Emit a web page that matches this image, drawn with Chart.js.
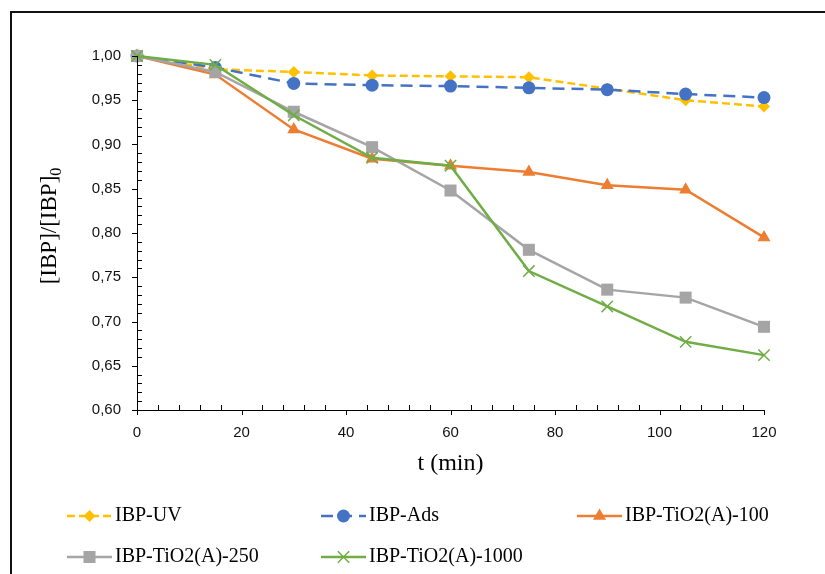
<!DOCTYPE html>
<html lang="en">
<head>
    <meta charset="UTF-8">
    <title>IBP degradation</title>
    <script src="https://cdn.jsdelivr.net/npm/chart.js"></script>
    <style>
        body { margin: 0; background: #fff; overflow: hidden; }
        .frame { position: absolute; left: 10px; top: 11px; width: 1000px; height: 1000px;
                 border-left: 2px solid #111; border-top: 2px solid #111; }
        #chart { position: absolute; left: 0; top: 0; }
    </style>
</head>
<body>
    <div class="frame"></div>
    <canvas id="chart" width="825" height="574"></canvas>

    <script>
        // Datos: concentración relativa de IBP frente al tiempo (min)
        const timeMin = [0, 15, 30, 45, 60, 75, 90, 105, 120];
        const ibpUV = [1.000, 0.985, 0.982, 0.978, 0.977, 0.976, 0.963, 0.950, 0.943];
        const ibpAds = [1.000, 0.987, 0.969, 0.967, 0.966, 0.964, 0.962, 0.957, 0.953];
        const ibpTiO2_100 = [1.000, 0.979, 0.917, 0.884, 0.876, 0.869, 0.854, 0.849, 0.795];
        const ibpTiO2_250 = [1.000, 0.982, 0.937, 0.897, 0.848, 0.781, 0.736, 0.727, 0.694];
        const ibpTiO2_1000 = [1.000, 0.990, 0.933, 0.885, 0.876, 0.757, 0.717, 0.677, 0.662];
        const seriesNames = ['IBP-UV', 'IBP-Ads', 'IBP-TiO2(A)-100', 'IBP-TiO2(A)-250', 'IBP-TiO2(A)-1000'];

        const serifFont = '"Liberation Serif", "DejaVu Serif", serif';
        const sansFont = '"Liberation Sans", Arial, sans-serif';

        const styles = [
            { color: '#FFC000', dash: [8, 4], point: 'rectRot', radius: 6 },
            { color: '#4472C4', dash: [12, 7], point: 'circle', radius: 6.5 },
            { color: '#ED7D31', dash: [], point: 'triangle', radius: 7.5 },
            { color: '#A5A5A5', dash: [], point: 'rect', radius: 8.5 },
            { color: '#70AD47', dash: [], point: 'crossRot', radius: 8 }
        ];
        const seriesValues = [ibpUV, ibpAds, ibpTiO2_100, ibpTiO2_250, ibpTiO2_1000];

        const datasets = seriesValues.map((vals, i) => ({
            label: seriesNames[i],
            data: vals.map((v, k) => ({ x: timeMin[k], y: v })),
            borderColor: styles[i].color,
            backgroundColor: styles[i].color,
            borderWidth: 2.5,
            borderDash: styles[i].dash,
            pointStyle: styles[i].point,
            pointRadius: styles[i].radius,
            pointBorderWidth: styles[i].point === 'crossRot' ? 1.5 : 0,
            pointBorderColor: styles[i].color,
            pointBackgroundColor: styles[i].color,
            tension: 0,
            clip: false,
            order: seriesValues.length - i
        }));

        // ejes, marcas menores y títulos
        const axesPlugin = {
            id: 'axesDeco',
            afterDraw(chart) {
                const ctx = chart.ctx;
                const xs = chart.scales.x, ys = chart.scales.y;
                const a = chart.chartArea;
                ctx.save();
                ctx.strokeStyle = '#000';
                ctx.lineWidth = 1;
                ctx.beginPath();
                ctx.moveTo(a.left + 0.5, a.top); ctx.lineTo(a.left + 0.5, a.bottom + 0.5);
                ctx.lineTo(a.right, a.bottom + 0.5);
                // y: mayores hacia fuera, menores hacia dentro
                for (let v = 60; v <= 100; v++) {
                    const py = Math.round(ys.getPixelForValue(v / 100)) + 0.5;
                    if (v % 5 === 0) { ctx.moveTo(a.left - 5, py); ctx.lineTo(a.left, py); }
                    else { ctx.moveTo(a.left, py); ctx.lineTo(a.left + 5, py); }
                }
                for (let t = 0; t <= 120; t += 4) {
                    const px = Math.round(xs.getPixelForValue(t)) + 0.5;
                    if (t % 20 === 0) { ctx.moveTo(px, a.bottom); ctx.lineTo(px, a.bottom + 5); }
                    else { ctx.moveTo(px, a.bottom); ctx.lineTo(px, a.bottom - 5); }
                }
                ctx.stroke();

                // título eje x
                ctx.fillStyle = '#000';
                ctx.font = '24px ' + serifFont;
                ctx.textAlign = 'center';
                ctx.textBaseline = 'middle';
                ctx.fillText('t (min)', (a.left + a.right) / 2, 464);

                // título eje y con subíndice
                ctx.translate(56, 226);
                ctx.rotate(-Math.PI / 2);
                ctx.textAlign = 'left';
                ctx.textBaseline = 'alphabetic';
                const main = '[IBP]/[IBP]', sub = '0';
                ctx.font = '23px ' + serifFont;
                const w1 = ctx.measureText(main).width;
                ctx.font = '16px ' + serifFont;
                const w2 = ctx.measureText(sub).width;
                const u0 = -(w1 + w2) / 2;
                ctx.font = '23px ' + serifFont;
                ctx.fillText(main, u0, 0);
                ctx.font = '16px ' + serifFont;
                ctx.fillText(sub, u0 + w1, 5);
                ctx.restore();
            }
        };

        // leyenda en dos filas
        const legendPlugin = {
            id: 'seriesLegend',
            afterDraw(chart) {
                const ctx = chart.ctx;
                const cols = [67, 321, 577];
                const rows = [516, 557];
                ctx.save();
                chart.data.datasets.forEach((ds, i) => {
                    const x = cols[i % 3], y = rows[Math.floor(i / 3)];
                    ctx.strokeStyle = ds.borderColor;
                    ctx.lineWidth = ds.borderWidth;
                    ctx.setLineDash(ds.borderDash);
                    ctx.beginPath();
                    ctx.moveTo(x, y); ctx.lineTo(x + 45, y);
                    ctx.stroke();
                    ctx.setLineDash([]);
                    ctx.fillStyle = ds.pointBackgroundColor;
                    ctx.strokeStyle = ds.pointBorderColor;
                    ctx.lineWidth = ds.pointBorderWidth;
                    Chart.helpers.drawPoint(ctx, {
                        pointStyle: ds.pointStyle, radius: ds.pointRadius,
                        borderWidth: ds.pointBorderWidth, rotation: 0
                    }, x + 22.5, y);
                    ctx.fillStyle = '#000';
                    ctx.font = '20px ' + serifFont;
                    ctx.textAlign = 'left';
                    ctx.textBaseline = 'middle';
                    ctx.fillText(ds.label, x + 48, y);
                });
                ctx.restore();
            }
        };

        new Chart(document.getElementById('chart'), {
            type: 'line',
            data: { datasets },
            options: {
                responsive: false,
                animation: false,
                layout: { padding: { left: 0, top: 56, right: 61, bottom: 0 } },
                plugins: { legend: { display: false }, tooltip: { enabled: false } },
                scales: {
                    x: {
                        type: 'linear', min: 0, max: 120,
                        grid: { display: false, drawTicks: false },
                        border: { display: false },
                        ticks: { stepSize: 20, padding: 14, color: '#111', font: { family: sansFont, size: 15 } },
                        afterFit(scale) { scale.height = 164; }
                    },
                    y: {
                        min: 0.6, max: 1.0,
                        grid: { display: false, drawTicks: false },
                        border: { display: false },
                        ticks: {
                            stepSize: 0.05, padding: 16, color: '#111',
                            font: { family: sansFont, size: 15 },
                            callback: v => v.toFixed(2).replace('.', ',')
                        },
                        afterFit(scale) { scale.width = 137; }
                    }
                }
            },
            plugins: [axesPlugin, legendPlugin]
        });
    </script>
</body>
</html>
